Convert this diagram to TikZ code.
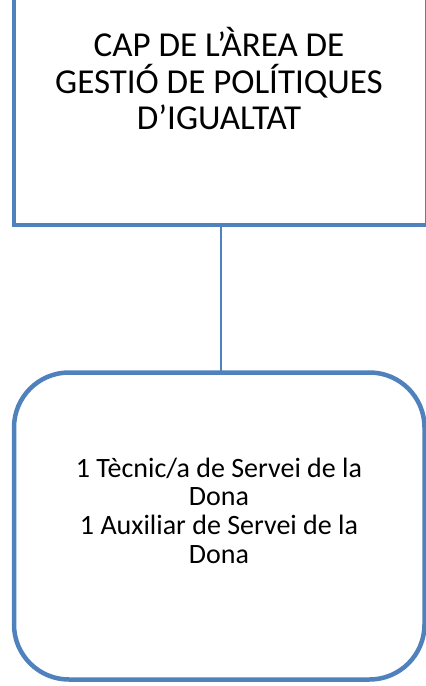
\documentclass[tikz,border=0pt]{standalone}
\usepackage{fontspec}
\setmainfont{Carlito}
\definecolor{boxblue}{RGB}{79,129,189}
\begin{document}
\begin{tikzpicture}[x=1pt,y=-1pt,
  boxline/.style={draw=boxblue, line width=4.5pt, fill=none, inner sep=0pt, outer sep=0pt},
  bigtext/.style={anchor=base, inner sep=0pt, font=\fontsize{35}{37}\selectfont},
  smalltext/.style={anchor=base, inner sep=0pt, font=\fontsize{28}{29}\selectfont},
  conn/.style={draw=boxblue, line width=1.6pt}]
\useasboundingbox (0,0) rectangle (426,686);
\clip (0,0) rectangle (426,686);
\node[boxline, minimum width=413.5pt, minimum height=235pt] (cap) at (220.75,107.5) {};
\node[boxline, rounded corners=55pt, minimum width=410.5pt, minimum height=307pt] (team) at (219.25,526) {};
\draw[conn] (cap.south) -- (cap.south |- team.north);
\node[bigtext] (t1) at (219,56) {CAP DE L’ÀREA DE};
\node[bigtext] (t2) at (219,93) {GESTIÓ DE POLÍTIQUES};
\node[bigtext] (t3) at (219,129) {D’IGUALTAT};
\node[smalltext] (b1) at (219,477) {1 Tècnic/a de Servei de la};
\node[smalltext] (b2) at (219,505.5) {Dona};
\node[smalltext] (b3) at (219,534) {1 Auxiliar de Servei de la};
\node[smalltext] (b4) at (219,563) {Dona};
\end{tikzpicture}
\end{document}
